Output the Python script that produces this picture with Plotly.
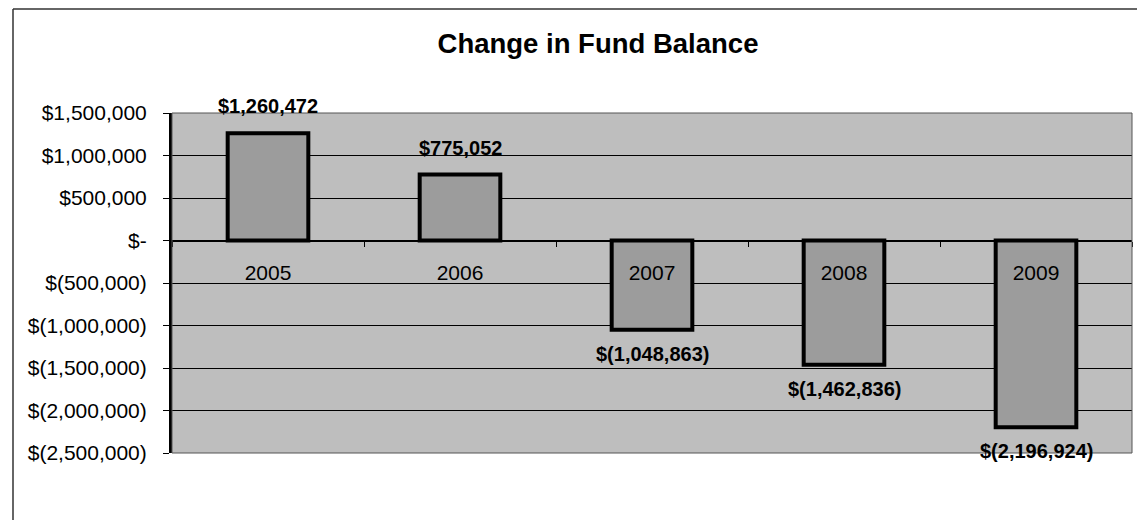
import plotly.graph_objects as go

years = ["2005", "2006", "2007", "2008", "2009"]
changes = [1260472, 775052, -1048863, -1462836, -2196924]
y_tick_vals = [1500000, 1000000, 500000, 0, -500000, -1000000, -1500000, -2000000, -2500000]
y_tick_text = ["$1,500,000", "$1,000,000", "$500,000", "$-", "$(500,000)", "$(1,000,000)",
               "$(1,500,000)", "$(2,000,000)", "$(2,500,000)"]


def money(v):
    s = "{:,}".format(abs(v))
    return "$" + s if v >= 0 else "$(" + s + ")"


# the page body adds an 8px offset, so the figure is 8px smaller than the window
OFF = 8
W, H = 1145 - OFF, 520 - OFF
ML, MT = 172 - OFF, 113 - OFF
MR = W - (1132 - OFF)
MB = H - (453 - OFF)
pw = W - ML - MR
ph = H - MT - MB
ymin, ymax = -2500000, 1500000
FONT = "Arial, Liberation Sans, sans-serif"

fig = go.Figure()
fig.add_trace(go.Bar(
    x=years, y=changes, width=0.42,
    marker=dict(color="#9c9c9c", line=dict(color="black", width=4)),
    hoverinfo="skip",
))

for i, v in enumerate(changes):
    fig.add_annotation(x=i, y=v, text="<b>" + money(v) + "</b>", showarrow=False,
                       yanchor="middle", yshift=27 if v >= 0 else -24,
                       font=dict(size=20, color="black", family=FONT))

zero_pos = (0 - ymin) / (ymax - ymin)
top_y = 1 + (MT - 1) / ph
left_x = (13 - OFF - ML) / pw

shapes = [
    dict(type="rect", xref="paper", yref="paper", x0=0, x1=1, y0=0, y1=1,
         line=dict(color="#555555", width=1), layer="above"),
    dict(type="line", xref="paper", yref="paper",
         x0=left_x, x1=left_x, y0=-(MB + 2) / ph, y1=top_y,
         line=dict(color="#333333", width=1.5)),
    dict(type="line", xref="paper", yref="paper",
         x0=left_x, x1=(W + 2 - ML) / pw, y0=top_y, y1=top_y,
         line=dict(color="#333333", width=1.5)),
]

fig.update_layout(
    width=W, height=H,
    margin=dict(l=ML, r=MR, t=MT, b=MB, pad=0),
    paper_bgcolor="white", plot_bgcolor="#bebebe",
    font=dict(family=FONT, color="black"),
    showlegend=False,
    title=dict(text="<b>Change in Fund Balance</b>", x=(598 - OFF) / W, xanchor="center",
               y=1 - (43 - OFF) / H, yanchor="middle", xref="container", yref="container",
               font=dict(size=27.5, family=FONT, color="black")),
    xaxis=dict(
        type="category", categoryorder="array", categoryarray=years,
        range=[-0.5, len(years) - 0.5], autorange=False,
        anchor="free", position=zero_pos,
        showline=True, linecolor="black", linewidth=1,
        ticks="outside", tickson="boundaries", ticklen=5, tickcolor="black",
        tickfont=dict(size=21, family=FONT, color="black"),
        ticklabelstandoff=13, showgrid=False, zeroline=False,
    ),
    yaxis=dict(
        range=[ymin, ymax], autorange=False, tickvals=y_tick_vals, ticktext=y_tick_text,
        showgrid=True, gridcolor="black", gridwidth=1,
        zeroline=False, showline=True, linecolor="black", linewidth=3,
        ticks="outside", ticklen=6, tickcolor="black",
        tickfont=dict(size=21, family=FONT, color="black"),
        ticklabelstandoff=12,
    ),
    shapes=shapes,
)

fig.write_html("out.html")
